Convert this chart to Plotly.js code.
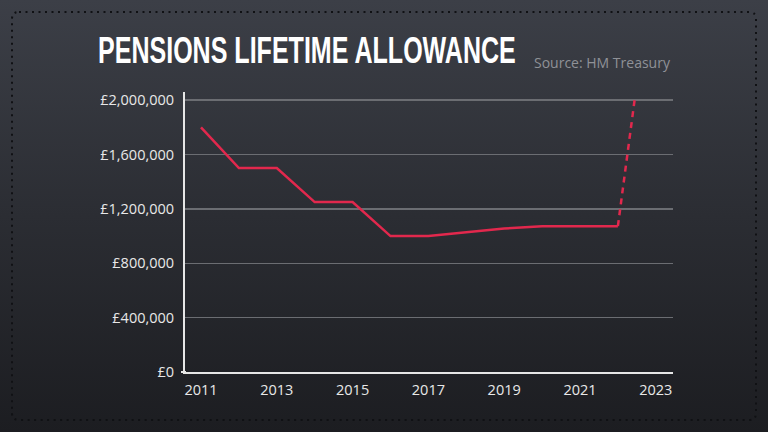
<!DOCTYPE html>
<html>
<head>
<meta charset="utf-8">
<script src="https://cdn.plot.ly/plotly-3.0.1.min.js"></script>
<style>
  html, body { margin: 0; padding: 0; }
  body { width: 768px; height: 432px; background: linear-gradient(180deg, #3c3f47 0%, #2b2d33 50%, #1c1d21 100%); overflow: hidden; }
  #chart { width: 768px; height: 432px; }
</style>
</head>
<body>
<div id="chart"></div>
<script>
// Data (tax years, pounds)
const years = [2011, 2012, 2013, 2014, 2015, 2016, 2017, 2018, 2019, 2020, 2021, 2022];
const allowance = [1800000, 1500000, 1500000, 1250000, 1250000, 1000000, 1000000, 1030000, 1055000, 1073100, 1073100, 1073100];
// Projected abolition (dashed, leaves the chart)
const projYears = [2022, 2022.44];
const projValues = [1073100, 2000000];
const tickYears = [2011, 2013, 2015, 2017, 2019, 2021, 2023];
const tickValues = [0, 400000, 800000, 1200000, 1600000, 2000000];
const tickLabels = ['£0', '£400,000', '£800,000', '£1,200,000', '£1,600,000', '£2,000,000'];

const W = 768, H = 432;
const M = {l: 185, r: 95, t: 92, b: 60};
const PW = W - M.l - M.r, PH = H - M.t - M.b;
const fx = X => (X - M.l) / PW;
const fy = Y => (H - M.b - Y) / PH;

// rounded dotted frame
const x0 = 12, y0 = 12, x1 = 756, y1 = 420, rr = 7;
const framePath = [
  'M', fx(x0 + rr), fy(y0),
  'L', fx(x1 - rr), fy(y0),
  'Q', fx(x1), fy(y0), fx(x1), fy(y0 + rr),
  'L', fx(x1), fy(y1 - rr),
  'Q', fx(x1), fy(y1), fx(x1 - rr), fy(y1),
  'L', fx(x0 + rr), fy(y1),
  'Q', fx(x0), fy(y1), fx(x0), fy(y1 - rr),
  'L', fx(x0), fy(y0 + rr),
  'Q', fx(x0), fy(y0), fx(x0 + rr), fy(y0),
  'Z'
].join(' ');

const traces = [
  {
    x: years, y: allowance, type: 'scatter', mode: 'lines',
    line: {color: '#e2284d', width: 2.5},
    hoverinfo: 'skip', showlegend: false
  },
  {
    x: projYears, y: projValues, type: 'scatter', mode: 'lines',
    line: {color: '#e2284d', width: 2.5, dash: '6px,5px'},
    hoverinfo: 'skip', showlegend: false
  }
];

const left = 2011 - 16 / 37.9;
const layout = {
  width: W, height: H,
  margin: M,
  paper_bgcolor: 'rgba(0,0,0,0)',
  plot_bgcolor: 'rgba(0,0,0,0)',
  font: {family: 'Open Sans, sans-serif', color: '#e8e8e8', size: 14},
  title: {
    text: 'PENSIONS LIFETIME ALLOWANCE',
    font: {family: 'Liberation Sans Narrow, Arial Narrow, sans-serif', size: 36, color: '#ffffff', weight: 700},
    xref: 'container', yref: 'container',
    x: 98 / W, xanchor: 'left',
    y: 1 - 50 / H, yanchor: 'middle'
  },
  xaxis: {
    range: [left, left + PW / 37.9],
    tickmode: 'array', tickvals: tickYears, ticktext: tickYears.map(String),
    showgrid: false, zeroline: false,
    showline: true, linecolor: '#e6e6e6', linewidth: 2,
    ticks: 'outside', ticklen: 4, tickcolor: 'rgba(0,0,0,0)',
    tickfont: {family: 'Open Sans, sans-serif', size: 14.5, color: '#e8e8e8'},
    fixedrange: true
  },
  yaxis: {
    range: [0, 2060000],
    tickmode: 'array', tickvals: tickValues, ticktext: tickLabels,
    showgrid: true, gridcolor: '#6b6d72', gridwidth: 1.5,
    zeroline: false,
    showline: true, linecolor: '#e6e6e6', linewidth: 2,
    ticks: 'outside', ticklen: 6, tickcolor: 'rgba(0,0,0,0)',
    tickfont: {family: 'Open Sans, sans-serif', size: 14.5, color: '#e8e8e8'},
    fixedrange: true
  },
  annotations: [
    {
      text: 'Source: HM Treasury', showarrow: false,
      xref: 'paper', yref: 'paper',
      x: 1, xanchor: 'right',
      y: fy(62.5), yanchor: 'middle',
      font: {family: 'Open Sans, sans-serif', size: 14, color: '#8f9197'}
    }
  ],
  shapes: [
    {
      type: 'path', xref: 'paper', yref: 'paper', path: framePath,
      line: {color: '#101114', width: 2, dash: '2px,4.5px'},
      fillcolor: 'rgba(0,0,0,0)', layer: 'below'
    },
    {
      type: 'line', xref: 'paper', yref: 'paper',
      x0: fx(181), x1: fx(186), y0: 0, y1: 0,
      line: {color: '#e6e6e6', width: 2}
    }
  ]
};

Plotly.newPlot('chart', traces, layout, {staticPlot: true, displayModeBar: false}).then(function () {
  const t = document.querySelector('.gtitle');
  if (t) {
    const w0 = t.getComputedTextLength();
    const s = 418 / w0;
    const tx = parseFloat(t.getAttribute('x')) || 98;
    t.setAttribute('transform', 'translate(' + tx + ',0) scale(' + s + ',1) translate(' + (-tx) + ',0)');
  }
});
</script>
</body>
</html>
